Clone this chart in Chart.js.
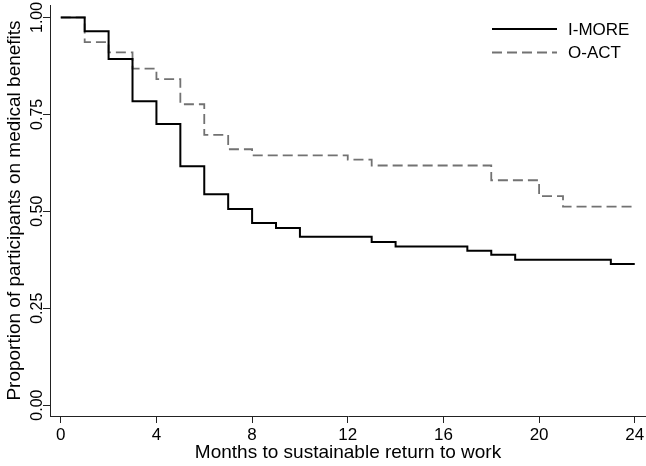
<!DOCTYPE html>
<html>
<head>
<meta charset="utf-8">
<script src="https://cdn.jsdelivr.net/npm/chart.js@4/dist/chart.umd.min.js"></script>
<style>
  html, body { margin: 0; padding: 0; background: #fff; }
  #wrap { width: 646px; height: 466px; }
</style>
</head>
<body>
<div id="wrap"><canvas id="kmChart" width="646" height="466"></canvas></div>
<script>
// Kaplan-Meier steps (month, proportion still on benefits)
const imoreMonths = [0, 1, 2, 3, 4, 5, 6, 7, 8, 9, 10, 13, 14, 17, 18, 19, 23, 24];
const imoreProp   = [1.00, 0.964, 0.893, 0.784, 0.725, 0.616, 0.544, 0.506, 0.470, 0.457, 0.434, 0.421, 0.409, 0.398, 0.388, 0.375, 0.364, 0.364];

const oactMonths = [0, 1, 2, 3, 4, 5, 6, 7, 8, 12, 13, 18, 20, 21, 24];
const oactProp   = [1.00, 0.936, 0.910, 0.868, 0.841, 0.776, 0.697, 0.660, 0.644, 0.633, 0.618, 0.580, 0.539, 0.512, 0.512];

const xTicks = [0, 4, 8, 12, 16, 20, 24];
const yTicks = [0, 0.25, 0.5, 0.75, 1];

const seriesNames = ['I-MORE', 'O-ACT'];

const toPoints = (xs, ys) => xs.map((x, i) => ({ x, y: ys[i] }));

// small legend drawn inside the top right corner of the plot
const cornerLegend = {
  id: 'cornerLegend',
  afterDraw(chart) {
    const { ctx, chartArea } = chart;
    const x0 = chartArea.right - 154;
    ctx.save();
    ctx.font = '17px "Liberation Sans", Arial, sans-serif';
    ctx.textBaseline = 'middle';
    ctx.fillStyle = '#000';
    chart.data.datasets.forEach((ds, i) => {
      const y = chartArea.top + 24 + i * 23.5;
      ctx.beginPath();
      ctx.strokeStyle = ds.borderColor;
      ctx.lineWidth = ds.borderWidth;
      ctx.setLineDash(ds.borderDash || []);
      ctx.moveTo(x0, y);
      ctx.lineTo(x0 + 65, y);
      ctx.stroke();
      ctx.fillText(ds.label, x0 + 76, y + 1);
    });
    ctx.restore();
  }
};

const axisColor = '#222';

new Chart(document.getElementById('kmChart'), {
  type: 'line',
  data: {
    datasets: [{
      label: seriesNames[0],
      data: toPoints(imoreMonths, imoreProp),
      borderColor: '#000',
      borderWidth: 2,
      stepped: 'before',
      pointRadius: 0,
      fill: false
    }, {
      label: seriesNames[1],
      data: toPoints(oactMonths, oactProp),
      borderColor: '#727272',
      borderWidth: 1.8,
      borderDash: [10, 5],
      stepped: 'before',
      pointRadius: 0,
      fill: false
    }]
  },
  options: {
    responsive: false,
    animation: false,
    layout: { padding: { top: 5, right: 0, left: 0, bottom: 0 } },
    plugins: {
      legend: { display: false },
      tooltip: { enabled: false }
    },
    scales: {
      x: {
        type: 'linear',
        min: -0.45,
        max: 24.47,
        afterBuildTicks: s => { s.ticks = xTicks.map(v => ({ value: v })); },
        afterFit: s => { s.height = 50; s.paddingLeft = 0; s.paddingRight = 0; },
        grid: { display: true, drawOnChartArea: false, drawTicks: true, tickLength: 7, color: axisColor },
        border: { display: true, color: axisColor, width: 1 },
        ticks: {
          color: '#000',
          padding: 2,
          maxRotation: 0,
          font: { family: '"Liberation Sans", Arial, sans-serif', size: 17 }
        },
        title: {
          display: true,
          text: 'Months to sustainable return to work',
          color: '#000',
          padding: { top: 0, bottom: 2 },
          font: { family: '"Liberation Sans", Arial, sans-serif', size: 19 }
        }
      },
      y: {
        type: 'linear',
        min: -0.028,
        max: 1.032,
        afterBuildTicks: s => { s.ticks = yTicks.map(v => ({ value: v })); },
        afterFit: s => { s.width = 50; s.paddingTop = 0; s.paddingBottom = 0; },
        grid: { display: true, drawOnChartArea: false, drawTicks: true, tickLength: 7, color: axisColor },
        border: { display: true, color: axisColor, width: 1 },
        ticks: {
          color: '#000',
          padding: -10,
          crossAlign: 'center',
          minRotation: 90,
          maxRotation: 90,
          callback: v => v.toFixed(2),
          font: { family: '"Liberation Sans", Arial, sans-serif', size: 16 }
        },
        title: {
          display: true,
          text: 'Proportion of participants on medical benefits',
          color: '#000',
          padding: { top: 3, bottom: 0 },
          font: { family: '"Liberation Sans", Arial, sans-serif', size: 19 }
        }
      }
    }
  },
  plugins: [cornerLegend]
});
</script>
</body>
</html>
